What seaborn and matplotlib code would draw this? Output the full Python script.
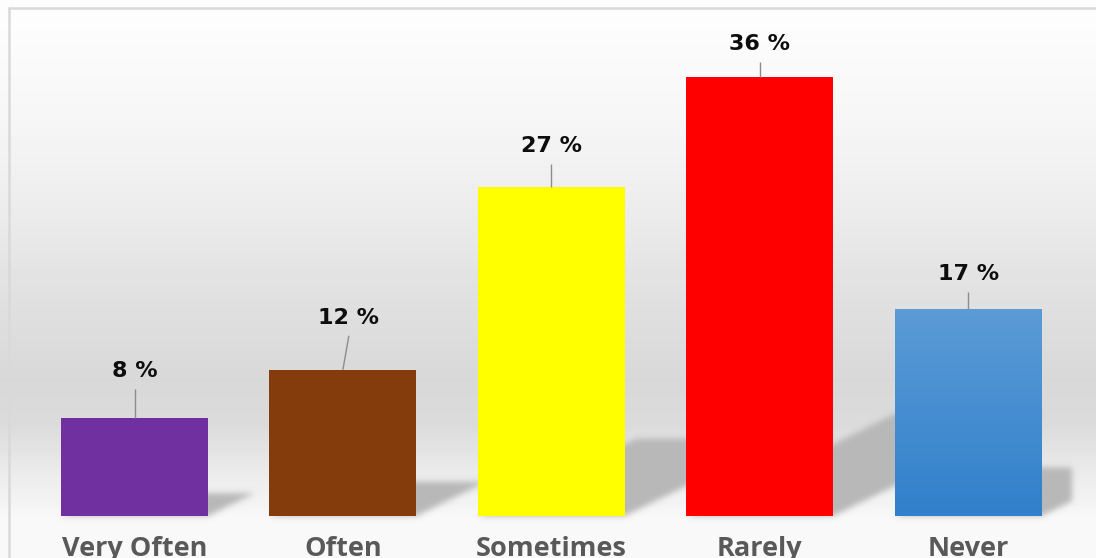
import numpy as np
import matplotlib
matplotlib.use("Agg")
import matplotlib.pyplot as plt
import seaborn as sns
from matplotlib.patches import Polygon
from matplotlib.lines import Line2D
from matplotlib.colors import LinearSegmentedColormap, to_rgb

# ---------------- data ----------------
categories = ["Very Often", "Often", "Sometimes", "Rarely", "Never"]
percentages = [8, 12, 27, 36, 17]
bar_colors = ["#7030a0", "#843c0c", "#ffff00", "#ff0000", "#5b9bd5"]
value_labels = [f"{v} %" for v in percentages]

# ---------------- layout (pixels) ----------------
W, H, DPI = 1096, 558, 100
ax_left_px, ax_right_px = 30.3, 1072.3
ax_top_px, base_px = 10, 516
px_per_unit_y = 12.19
px_per_unit_x = (ax_right_px - ax_left_px) / len(categories)
label_lift_px = [47, 52, 41, 33, 35]
label_dx_px = [0, 6, 0, 0, 0]
leader_gap_px = 18

sns.set_theme(style="white")
plt.rcParams["font.family"] = ["DejaVu Sans"]

fig = plt.figure(figsize=(W / DPI, H / DPI), dpi=DPI)
fig.patch.set_facecolor("white")

# background gradient over whole figure
bg = fig.add_axes([0, 0, 1, 1], zorder=-10)
bg.set_axis_off()
stops_y = [0, 15, 120, 200, 300, 380, 425, 470, 505, 516, 558]
stops_v = [252, 253, 246, 237, 224, 216, 219, 234, 244, 248, 249]
col = np.interp(np.arange(H) + 0.5, stops_y, stops_v) / 255.0
img = np.repeat(col[:, None], 8, axis=1)
bg.imshow(img, cmap="gray", vmin=0, vmax=1, aspect="auto", extent=[0, 1, 0, 1],
          interpolation="nearest")
bg.set_xlim(0, 1)
bg.set_ylim(0, 1)

ax = fig.add_axes([ax_left_px / W, (H - base_px) / H,
                   (ax_right_px - ax_left_px) / W, (base_px - ax_top_px) / H])
ax.set_facecolor("none")

pal = dict(zip(categories, bar_colors))
sns.barplot(x=categories, y=percentages, hue=categories, palette=pal,
            width=0.705, saturation=1, legend=False, ax=ax, zorder=3,
            edgecolor="none")

ymax = (base_px - ax_top_px) / px_per_unit_y
ax.set_xlim(-0.5, len(categories) - 0.5)
ax.set_ylim(0, ymax)


def blur_filter(sigma, rgb):
    def f(im, dpi):
        pad = int(3 * sigma) + 1
        a = np.pad(im[..., 3], pad)
        xs = np.arange(-pad, pad + 1)
        k = np.exp(-0.5 * (xs / sigma) ** 2)
        k /= k.sum()
        out = np.zeros_like(a)
        for i, w in zip(xs, k):
            out += w * np.roll(a, i, axis=0)
        out2 = np.zeros_like(a)
        for i, w in zip(xs, k):
            out2 += w * np.roll(out, i, axis=1)
        res = np.zeros(a.shape + (4,))
        res[..., 0], res[..., 1], res[..., 2] = rgb
        res[..., 3] = out2
        return res, -pad, -pad
    return f


shadow_rgb = to_rgb("#b8b8b8")
bars = ax.patches[:len(categories)]
for p, v in zip(bars, percentages):
    x0 = p.get_x()
    x1 = x0 + p.get_width()
    h_px = v * px_per_unit_y
    t_px = 0.235 * h_px
    sh_px = t_px / 0.49
    dx = sh_px / px_per_unit_x
    dy = t_px / px_per_unit_y
    poly = Polygon([(x0, 0), (x1, 0), (x1 + dx, dy), (x0 + dx, dy)],
                   closed=True, facecolor="#b8b8b8", edgecolor="none",
                   zorder=1)
    poly.set_agg_filter(blur_filter(3.0, shadow_rgb))
    ax.add_patch(poly)

# gradient fill on the last bar
pn = bars[-1]
grad = LinearSegmentedColormap.from_list("nv", ["#3180cb", "#5b9bd6"])
gimg = ax.imshow(np.linspace(0, 1, 100)[:, None], cmap=grad, aspect="auto",
                 origin="lower", zorder=3.5,
                 extent=[pn.get_x(), pn.get_x() + pn.get_width(), 0, pn.get_height()])
gimg.set_clip_path(pn)
ax.set_xlim(-0.5, len(categories) - 0.5)
ax.set_ylim(0, ymax)

# value labels with leader lines
for i, (v, t) in enumerate(zip(percentages, value_labels)):
    lx = i + label_dx_px[i] / px_per_unit_x
    ly = v + label_lift_px[i] / px_per_unit_y
    ax.text(lx, ly, t, ha="center", va="center", fontsize=16,
            fontweight="bold", color="#0d0d0d", zorder=5, clip_on=False)
    ax.plot([lx, i], [ly - leader_gap_px / px_per_unit_y, v], color="#8c8c8c",
            lw=1, zorder=4, solid_capstyle="butt")

sns.despine(ax=ax, left=True, bottom=True)
ax.set_yticks([])
ax.set_ylabel("")
ax.set_xlabel("")
ax.set_xticks(range(len(categories)))
ax.set_xticklabels(categories)
ax.tick_params(axis="x", length=0, pad=29)
for lbl in ax.get_xticklabels():
    lbl.set_fontfamily("Open Sans")
    lbl.set_fontweight("bold")
    lbl.set_fontsize(19.5)
    lbl.set_color("#595959")
    lbl.set_va("baseline")

# chart border
fig.add_artist(Line2D([9 / W, 9 / W], [-0.1, 1 - 7.5 / H], transform=fig.transFigure,
                      color="#d9d9d9", lw=1.8))
fig.add_artist(Line2D([9 / W, 1.1], [1 - 7.5 / H, 1 - 7.5 / H], transform=fig.transFigure,
                      color="#d9d9d9", lw=1.8))

fig.savefig("out.png", dpi=DPI)
